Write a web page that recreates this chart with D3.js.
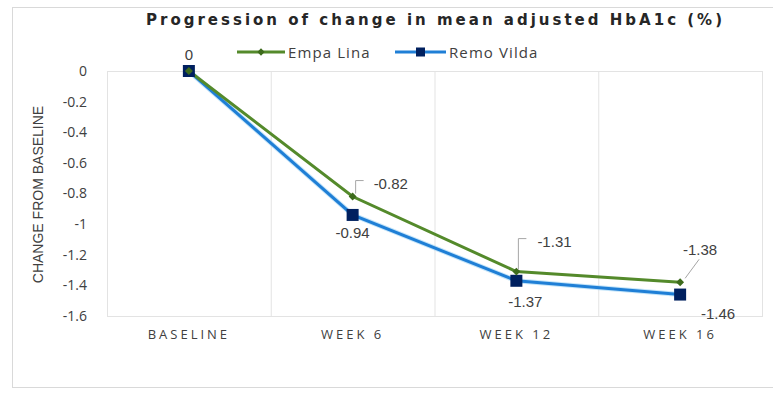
<!DOCTYPE html>
<html>
<head>
<meta charset="utf-8">
<script src="https://cdn.jsdelivr.net/npm/d3@7"></script>
<style>
  html, body { margin: 0; padding: 0; background: #fff; }
  svg { display: block; }
</style>
</head>
<body>
<svg id="chart" width="773" height="395"></svg>
<script>
// Timepoints and mean change in HbA1c (%) for each treatment arm
const categories = ["BASELINE", "WEEK 6", "WEEK 12", "WEEK 16"];
const empaLina = [0, -0.82, -1.31, -1.38];
const remoVilda = [0, -0.94, -1.37, -1.46];
const yTicks = [0, -0.2, -0.4, -0.6, -0.8, -1, -1.2, -1.4, -1.6];

const svg = d3.select("#chart");
const W = 773, H = 395;
const plot = { left: 107, right: 762, top: 71, bottom: 316 };

// outer chart frame
svg.append("rect").attr("x", 12.5).attr("y", 7.5).attr("width", W).attr("height", 380)
  .attr("fill", "#fff").attr("stroke", "#d9d9d9");

const x = d3.scaleBand().domain(categories).range([plot.left, plot.right]).padding(0);
const y = d3.scaleLinear().domain([-1.6, 0]).range([plot.bottom, plot.top]);

// plot area border and vertical category dividers
svg.append("rect")
  .attr("x", plot.left + 0.5).attr("y", plot.top + 0.5)
  .attr("width", plot.right - plot.left).attr("height", plot.bottom - plot.top)
  .attr("fill", "none").attr("stroke", "#e3e3e3");
svg.append("g").selectAll("line").data(categories.slice(1)).join("line")
  .attr("x1", d => x(d) + 0.5).attr("x2", d => x(d) + 0.5)
  .attr("y1", plot.top).attr("y2", plot.bottom)
  .attr("stroke", "#e3e3e3");

// y axis
const yAxis = d3.axisLeft(y).tickValues(yTicks).tickSize(0).tickPadding(20)
  .tickFormat(d => String(+d.toFixed(1)));
const gy = svg.append("g").attr("transform", `translate(${plot.left},0)`).call(yAxis);
gy.select(".domain").remove();
gy.selectAll("text").attr("font-family", "Open Sans, sans-serif").attr("font-size", 14)
  .attr("fill", "#404040");

// x axis
const xAxis = d3.axisBottom(x).tickSize(0).tickPadding(14);
const gx = svg.append("g").attr("transform", `translate(0,${plot.bottom})`).call(xAxis);
gx.select(".domain").remove();
gx.selectAll("text").attr("font-family", "Open Sans, sans-serif").attr("font-size", 13)
  .attr("letter-spacing", "3px").attr("fill", "#404040");

// y axis title
svg.append("text")
  .attr("transform", `translate(43,${(plot.top + plot.bottom) / 2 + 1}) rotate(-90)`)
  .attr("text-anchor", "middle")
  .attr("font-family", "Liberation Sans Narrow, Liberation Sans, sans-serif")
  .attr("font-size", 14).attr("fill", "#404040")
  .text("CHANGE FROM BASELINE");

// chart title
svg.append("text")
  .attr("x", 146).attr("y", 25).attr("text-anchor", "start")
  .attr("textLength", 576).attr("lengthAdjust", "spacing")
  .attr("font-family", "DejaVu Sans, Verdana, sans-serif").attr("font-weight", "bold")
  .attr("font-size", 15).attr("fill", "#262626")
  .text("Progression of change in mean adjusted HbA1c (%)");

const cx = d => x(d) + x.bandwidth() / 2;
const line = d3.line().x((d, i) => cx(categories[i])).y(d => y(d));

const blue = "#1f7fd6", navy = "#00205f", green = "#548a2b", darkGreen = "#3d6b1c";

// Remo Vilda series
svg.append("path").datum(remoVilda).attr("d", line)
  .attr("fill", "none").attr("stroke", "#9ed3f5").attr("stroke-width", 5).attr("opacity", 0.6);
svg.append("path").datum(remoVilda).attr("d", line)
  .attr("fill", "none").attr("stroke", blue).attr("stroke-width", 3);

// Empa Lina series
svg.append("path").datum(empaLina).attr("d", line)
  .attr("fill", "none").attr("stroke", green).attr("stroke-width", 3);

svg.append("g").selectAll("rect").data(remoVilda).join("rect")
  .attr("x", (d, i) => cx(categories[i]) - 6).attr("y", d => y(d) - 6)
  .attr("width", 12).attr("height", 12).attr("fill", navy);

svg.append("g").selectAll("path").data(empaLina).join("path")
  .attr("d", d3.symbol(d3.symbolDiamond2, 40))
  .attr("transform", (d, i) => `translate(${cx(categories[i])},${y(d)})`)
  .attr("fill", darkGreen);

// data labels
const fmt = d => d === 0 ? "0" : d.toFixed(2);
const labelFont = "Liberation Sans, Arial, sans-serif";
const labels = [
  { v: empaLina[0], i: 0, dx: 0, dy: -16, anchor: "middle" },
  { v: empaLina[1], i: 1, dx: 21, dy: -13, anchor: "start", leader: [[3, -3], [3, -16], [11, -16]] },
  { v: remoVilda[1], i: 1, dx: 0, dy: 18, anchor: "middle" },
  { v: empaLina[2], i: 2, dx: 21, dy: -30, anchor: "start", leader: [[2, -2], [2, -33], [10, -33]] },
  { v: remoVilda[2], i: 2, dx: 9, dy: 21, anchor: "middle" },
  { v: empaLina[3], i: 3, dx: 20, dy: -32, anchor: "middle", leader: [[5, -4], [19, -23]] },
  { v: remoVilda[3], i: 3, dx: 38, dy: 19, anchor: "middle" }
];
labels.forEach(l => {
  const px = cx(categories[l.i]), py = y(l.v);
  if (l.leader) {
    svg.append("path")
      .attr("d", d3.line()(l.leader.map(p => [px + p[0], py + p[1]])))
      .attr("fill", "none").attr("stroke", "#a6a6a6").attr("stroke-width", 1);
  }
  svg.append("text")
    .attr("x", px + l.dx).attr("y", py + l.dy + 5)
    .attr("text-anchor", l.anchor)
    .attr("font-family", labelFont).attr("font-size", 15).attr("fill", "#404040")
    .text(fmt(l.v));
});

// legend
const legend = [
  { name: "Empa Lina", color: green, x: 237, len: 48, marker: "diamond" },
  { name: "Remo Vilda", color: blue, x: 395, len: 51, marker: "square" }
];
const lg = svg.append("g").attr("transform", "translate(0,52)");
legend.forEach(s => {
  lg.append("line").attr("x1", s.x).attr("x2", s.x + s.len).attr("y1", 0).attr("y2", 0)
    .attr("stroke", s.color).attr("stroke-width", 3);
  const mx = s.x + s.len / 2;
  if (s.marker === "diamond") {
    lg.append("path").attr("d", d3.symbol(d3.symbolDiamond2, 34))
      .attr("transform", `translate(${mx},0)`).attr("fill", darkGreen);
  } else {
    lg.append("rect").attr("x", mx - 4.5).attr("y", -4.5).attr("width", 9).attr("height", 9)
      .attr("fill", navy);
  }
  lg.append("text").attr("x", s.x + s.len + 3).attr("y", 5.5)
    .attr("font-family", "Open Sans, sans-serif").attr("font-size", 15)
    .attr("letter-spacing", "1.1px")
    .attr("fill", "#404040").text(s.name);
});
</script>
</body>
</html>
